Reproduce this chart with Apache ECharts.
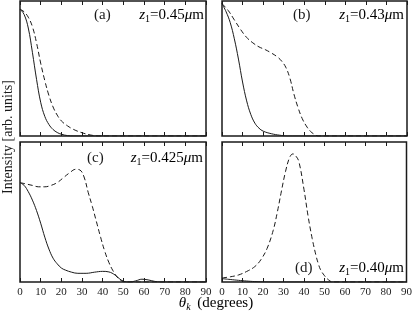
<!DOCTYPE html>
<html><head><meta charset="utf-8">
<script src="https://cdn.jsdelivr.net/npm/echarts@6/dist/echarts.min.js"></script>
<style>html,body{margin:0;padding:0;background:#fff}#c{width:415px;height:313px}</style>
</head><body><div id="c"></div>
<script>
const tickLabels = [0,10,20,30,40,50,60,70,80,90];

const aSolidX = [0,2,4,6,8,10,12,14,16,18,20,23,26,90];
const aSolidY = [0.94,0.9,0.8,0.62,0.42,0.25,0.145,0.085,0.048,0.026,0.013,0.003,0,0];
const aDashX = [0,2,4,6,8,10,12,14,16,18,20,23,26,30,34,38,90];
const aDashY = [0.94,0.92,0.88,0.81,0.69,0.54,0.41,0.3,0.215,0.155,0.112,0.075,0.048,0.024,0.008,0,0];

const bSolidX = [0,2,4,6,8,10,12,14,16,18,20,24,28,32,90];
const bSolidY = [0.98,0.92,0.84,0.72,0.57,0.4,0.26,0.16,0.095,0.058,0.036,0.017,0.006,0,0];
const bDashX = [0,3,6,9,12,15,18,21,24,27,29,31,33,35,37,39,41,43,45,47,90];
const bDashY = [0.98,0.93,0.86,0.79,0.73,0.69,0.66,0.64,0.615,0.585,0.555,0.51,0.43,0.31,0.21,0.13,0.075,0.035,0.012,0,0];

const cSolidX = [0,2,4,6,8,10,12,14,16,18,20,22,25,28,32,36,40,43,46,48,50,53,56,59,62,65,68,90];
const cSolidY = [0.71,0.69,0.645,0.585,0.51,0.42,0.32,0.235,0.17,0.13,0.1,0.085,0.07,0.062,0.062,0.07,0.076,0.072,0.05,0.025,0.006,0,0.008,0.02,0.015,0.005,0,0];
const cDashX = [0,3,6,9,12,15,18,21,24,27,29,31,33,35,37,39,41,43,45,47,49,51,90];
const cDashY = [0.71,0.7,0.69,0.68,0.68,0.69,0.71,0.745,0.78,0.805,0.8,0.75,0.64,0.54,0.43,0.32,0.22,0.14,0.08,0.035,0.01,0,0];

const dSolidX = [0,4,8,12,16,20,25,90];
const dSolidY = [0.024,0.018,0.012,0.007,0.003,0.001,0,0];
const dDashX = [0,4,8,12,16,19,22,25,27,29,31,33,34.6,36,37.5,40,42,44,46,47,48,50,52,54,90];
const dDashY = [0.029,0.037,0.05,0.075,0.11,0.16,0.24,0.37,0.5,0.65,0.79,0.89,0.915,0.9,0.86,0.66,0.47,0.31,0.18,0.13,0.09,0.045,0.015,0,0];

const panelTags = ['(a)', '(b)', '(c)', '(d)'];
const panelZ = ['0.45', '0.43', '0.425', '0.40'];

const zip = (xs, ys) => xs.map((x, i) => [x, ys[i]]);
const panels = [
  {solid: zip(aSolidX, aSolidY), dash: zip(aDashX, aDashY)},
  {solid: zip(bSolidX, bSolidY), dash: zip(bDashX, bDashY)},
  {solid: zip(cSolidX, cSolidY), dash: zip(cDashX, cDashY)},
  {solid: zip(dSolidX, dSolidY), dash: zip(dDashX, dDashY)}
];

const FONT = 'Liberation Serif';
const INK = '#1a1a1a';
const grids = [
  {left: 20, top: 1, width: 186, height: 135},
  {left: 222, top: 1, width: 185, height: 135},
  {left: 20, top: 142, width: 186, height: 140},
  {left: 222, top: 142, width: 185, height: 140}
].map(g => Object.assign({show: true, borderColor: INK, borderWidth: 1.5, containLabel: false}, g));

const xAxes = [], yAxes = [], series = [];
grids.forEach((g, i) => {
  const bottomRow = i >= 2;
  xAxes.push({
    type: 'value', gridIndex: i, min: 0, max: 90, interval: 10, position: 'bottom',
    axisLine: {show: false},
    axisTick: {show: true, inside: true, length: 4, lineStyle: {color: INK, width: 1}},
    splitLine: {show: false},
    axisLabel: {show: bottomRow, fontFamily: FONT, fontSize: 11, color: '#222', margin: 5,
      formatter: v => tickLabels.includes(v) ? String(v) : ''}
  });
  xAxes.push({
    type: 'value', gridIndex: i, min: 0, max: 90, interval: 10, position: 'top',
    axisLine: {show: false},
    axisTick: {show: true, inside: true, length: 4, lineStyle: {color: INK, width: 1}},
    splitLine: {show: false}, axisLabel: {show: false}
  });
  yAxes.push({
    type: 'value', gridIndex: i, min: 0, max: 1,
    axisLine: {show: false}, axisTick: {show: false}, axisLabel: {show: false}, splitLine: {show: false}
  });
  series.push({
    type: 'line', xAxisIndex: 2 * i, yAxisIndex: i, data: panels[i].solid,
    showSymbol: false, smooth: 0.4,
    lineStyle: {color: INK, width: 1}
  });
  series.push({
    type: 'line', xAxisIndex: 2 * i, yAxisIndex: i, data: panels[i].dash,
    showSymbol: false, smooth: 0.4,
    lineStyle: {color: INK, width: 1, type: [5, 3]}
  });
});

const rich = {
  n: {fontFamily: FONT, fontSize: 15, color: INK},
  i: {fontFamily: FONT, fontSize: 15, fontStyle: 'italic', color: INK},
  s: {fontFamily: FONT, fontSize: 10, color: INK, padding: [8, 0, 0, 0]}
};
// [tag left x, z-label right x, center y]
const labelPos = [[94, 204, 15], [293, 404, 15], [87, 203, 158], [295, 404, 268]];
const labelGraphics = [];
labelPos.forEach((p, i) => {
  labelGraphics.push({type: 'text', x: p[0], y: p[2], style: {
    text: panelTags[i], fontFamily: FONT, fontSize: 15, fill: INK, align: 'left', verticalAlign: 'middle'}});
  labelGraphics.push({type: 'text', x: p[1], y: p[2], style: {
    text: '{i|z}{s|1}{n|=' + panelZ[i] + '}{i|μ}{n|m}',
    rich: rich, align: 'right', verticalAlign: 'middle'}});
});

const chart = echarts.init(document.getElementById('c'), null, {renderer: 'canvas'});
chart.setOption({
  animation: false,
  backgroundColor: '#fff',
  grid: grids, xAxis: xAxes, yAxis: yAxes, series: series,
  graphic: labelGraphics.concat([
    {type: 'text', x: 216, y: 303, style: {
      text: '{i|θ}{s|k}  {n|(degrees)}', align: 'center', verticalAlign: 'middle',
      rich: {
        n: {fontFamily: FONT, fontSize: 15, color: INK},
        i: {fontFamily: FONT, fontSize: 15, fontStyle: 'italic', color: INK},
        s: {fontFamily: FONT, fontSize: 10, fontStyle: 'italic', color: INK, padding: [8, 0, 0, 0]}
      }}},
    {type: 'text', x: 8, y: 137, rotation: Math.PI / 2, style: {
      text: 'Intensity [arb. units]', fontFamily: FONT, fontSize: 14, fill: INK,
      align: 'center', verticalAlign: 'middle'}}
  ])
});
</script></body></html>
